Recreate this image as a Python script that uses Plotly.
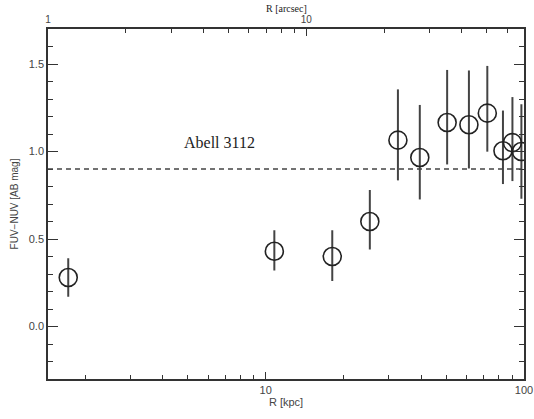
import numpy as np
import plotly.graph_objects as go

# Data
r_kpc = [1.72, 10.8, 18.1, 25.3, 32.5, 39.5, 50.4, 61.2, 72.1, 82.9, 90.2, 97.7]
color_fuv_nuv = [0.28, 0.43, 0.40, 0.60, 1.065, 0.966, 1.166, 1.153, 1.219, 1.004, 1.051, 1.00]
err_plus = [0.11, 0.12, 0.15, 0.18, 0.29, 0.30, 0.30, 0.31, 0.27, 0.23, 0.26, 0.27]
err_minus = [0.11, 0.11, 0.14, 0.16, 0.23, 0.24, 0.24, 0.25, 0.22, 0.19, 0.22, 0.27]
reference_level = 0.9
kpc_per_arcsec = 1.436
x_range_kpc = [1.436, 100.0]
y_range = [-0.3, 1.7]
label_text = "Abell 3112"

axis_col = "#333333"
tick_font = dict(family="Liberation Sans, Arial, sans-serif", size=11, color="#444444")

fig = go.Figure()

fig.add_trace(go.Scatter(
    x=r_kpc, y=color_fuv_nuv, mode="markers",
    marker=dict(symbol="circle-open", size=18, color="#222222", line=dict(width=1.6, color="#222222")),
    error_y=dict(type="data", symmetric=False, array=err_plus, arrayminus=err_minus,
                 width=0, thickness=2, color="#444444"),
    showlegend=False, cliponaxis=True,
))

# dummy trace for top axis
fig.add_trace(go.Scatter(x=[1, 10], y=[None, None], xaxis="x2", yaxis="y",
                         mode="markers", showlegend=False, hoverinfo="skip"))

fig.add_shape(type="line", xref="paper", x0=0, x1=1, yref="y", y0=reference_level, y1=reference_level,
              line=dict(color="#444444", width=1.3, dash="5px,4px"))

lo, hi = np.log10(x_range_kpc[0]), np.log10(x_range_kpc[1])
minor_kpc = [v for d in (1, 10) for v in [d * k for k in range(2, 10)] if x_range_kpc[0] <= v <= 100]
minor_arc = [v for d in (1, 10) for v in [d * k for k in range(2, 10)] if v <= 100 / kpc_per_arcsec]

fig.update_layout(
    width=534, height=419,
    margin=dict(l=48, r=10, t=29, b=40, autoexpand=False),
    paper_bgcolor="white", plot_bgcolor="white",
    xaxis=dict(type="log", range=[lo, hi], showgrid=False, zeroline=False, automargin=False,
               showline=True, linecolor=axis_col, linewidth=1.5, mirror=False,
               ticks="inside", ticklen=7, tickwidth=1.3, tickcolor=axis_col,
               tickmode="array", tickvals=[10, 100], ticktext=["10", "100"],
               tickfont=tick_font,
               minor=dict(ticks="inside", ticklen=4, tickwidth=1.2, tickcolor=axis_col,
                          tickmode="array", tickvals=minor_kpc, showgrid=False),
               title=dict(text="R [kpc]", font=tick_font, standoff=2)),
    xaxis2=dict(type="log", range=[0, hi - np.log10(kpc_per_arcsec)], overlaying="x", side="top",
                anchor="y", showgrid=False, zeroline=False, automargin=False,
                showline=True, linecolor=axis_col, linewidth=1.5,
                ticks="inside", ticklen=7, tickwidth=1.3, tickcolor=axis_col,
                tickmode="array", tickvals=[1, 10], ticktext=["1", "10"],
                tickfont=dict(family="Liberation Sans, Arial, sans-serif", size=10, color="#444444"),
                minor=dict(ticks="inside", ticklen=4, tickwidth=1.2, tickcolor=axis_col,
                           tickmode="array", tickvals=minor_arc, showgrid=False)),
    yaxis=dict(range=y_range, showgrid=False, zeroline=False, automargin=False,
               showline=True, linecolor=axis_col, linewidth=1.5, mirror="ticks",
               ticks="inside", ticklen=10, tickwidth=1.3, tickcolor=axis_col,
               tickmode="array", tickvals=[0.0, 0.5, 1.0, 1.5], ticktext=["0.0", "0.5", "1.0", "1.5"],
               tickfont=tick_font,
               minor=dict(ticks="inside", ticklen=5, tickwidth=1.2, tickcolor=axis_col,
                          dtick=0.1, tick0=0, showgrid=False),
               title=dict(text="FUV\u2212NUV [AB mag]",
                          font=dict(family="Liberation Sans, Arial, sans-serif", size=10, color="#444444"),
                          standoff=8)),
    annotations=[
        dict(text=label_text, xref="paper", yref="paper", x=0.361, y=0.675,
             xanchor="center", yanchor="middle", showarrow=False,
             font=dict(family="Liberation Serif, Times New Roman, serif", size=16, color="#222222")),
        dict(text="R [arcsec]", xref="paper", yref="paper", x=0.5, y=1.0, yshift=21,
             xanchor="center", yanchor="middle", showarrow=False,
             font=dict(family="Liberation Serif, Times New Roman, serif", size=10, color="#222222")),
    ],
)

fig.write_html("out.html")
